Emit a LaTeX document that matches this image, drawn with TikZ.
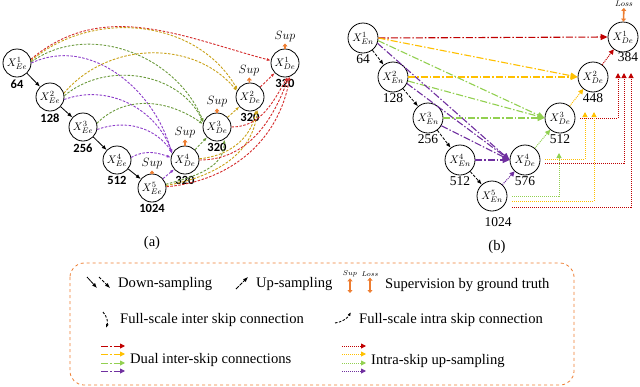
\documentclass[tikz,border=0pt]{standalone}
\usepackage{fontspec}
\setmainfont{Liberation Serif}
\newfontfamily\numfont{Carlito}
\usetikzlibrary{arrows.meta,positioning}

\definecolor{aRed}{HTML}{D42A2A}
\definecolor{aGold}{HTML}{C9A117}
\definecolor{aGreen}{HTML}{6B9A3C}
\definecolor{aPurple}{HTML}{8B3BC9}
\definecolor{bRed}{HTML}{C00000}
\definecolor{bOrange}{HTML}{FFC000}
\definecolor{bGreen}{HTML}{92D050}
\definecolor{bPurple}{HTML}{7030A0}
\definecolor{supOrange}{HTML}{ED7D31}

\begin{document}
\begin{tikzpicture}[x=1pt,y=1pt,
  every node/.style={font=\fontsize{14.6}{17}\selectfont},
  unit/.style={circle, draw, thick, minimum size=28pt, inner sep=0pt, font=\fontsize{11}{13}\selectfont},
  unitb/.style={unit, minimum size=30pt},
  numa/.style={font=\numfont\bfseries\fontsize{12.5}{14}\selectfont, inner sep=1pt},
  numb/.style={font=\fontsize{13.5}{15}\selectfont, inner sep=1pt},
  suptxt/.style={font=\fontsize{12}{14}\selectfont, inner sep=1pt},
  sup/.style={supOrange, line width=1.6pt, -{Triangle[length=3pt,width=5pt]}},
  askip/.style={dash pattern=on 2.5pt off 1.5pt, line width=0.9pt, -{Latex[length=4pt,width=3pt]}},
  downa/.style={thick, -{Latex[length=5pt,width=4pt]}},
  downb/.style={thick, dash pattern=on 3pt off 1.5pt, -{Latex[length=5pt,width=4pt]}},
  dual/.style={line width=1.1pt, dash pattern=on 7pt off 2pt on 1.5pt off 2pt, -{Triangle[length=7pt,width=6pt]}},
  intra/.style={line width=1pt, dash pattern=on 1pt off 1pt, -{Triangle[length=5pt,width=5pt]}},
  legtxt/.style={anchor=west, inner sep=0pt}]

\useasboundingbox (0,0) rectangle (640,-386);

% Panel (a): encoder and decoder nodes
\node[unit] (ae1) at (17,-63) {$X_{Ee}^{1}$};
\node[unit] (ae2) at (50,-97) {$X_{Ee}^{2}$};
\node[unit] (ae3) at (83,-127) {$X_{Ee}^{3}$};
\node[unit] (ae4) at (117,-160) {$X_{Ee}^{4}$};
\node[unit] (ae5) at (152,-188) {$X_{Ee}^{5}$};
\node[unit] (ad4) at (185,-160) {$X_{De}^{4}$};
\node[unit] (ad3) at (217,-127) {$X_{De}^{3}$};
\node[unit] (ad2) at (250,-97) {$X_{De}^{2}$};
\node[unit] (ad1) at (285,-63) {$X_{De}^{1}$};

\node[numa, below=1pt of ae1] (na1) {64};
\node[numa, below=1pt of ae2] (na2) {128};
\node[numa, below=1pt of ae3] (na3) {256};
\node[numa, below=1pt of ae4] (na4) {512};
\node[numa, below=1pt of ae5] (na5) {1024};
\node[numa, below=1pt of ad4] (na6) {320};
\node[numa, below=1pt of ad3] (na7) {320};
\node[numa, below=1pt of ad2] (na8) {320};
\node[numa, below=1pt of ad1] (na9) {320};

% deep supervision
\node[suptxt] (sa1) at (285,-37) {$Sup$};
\node[suptxt] (sa2) at (249,-71) {$Sup$};
\node[suptxt] (sa3) at (217,-102) {$Sup$};
\node[suptxt] (sa4) at (185,-133) {$Sup$};
\node[suptxt] (sa5) at (152,-164) {$Sup$};
\draw[sup] (ad1) -- (sa1);
\draw[sup] (ad2) -- (sa2);
\draw[sup] (ad3) -- (sa3);
\draw[sup] (ad4) -- (sa4);
\draw[sup] (ae5) -- (sa5);

% down-sampling
\draw[downa] (ae1) -- (ae2);
\draw[downa] (ae2) -- (ae3);
\draw[downa] (ae3) -- (ae4);
\draw[downa] (ae4) -- (ae5);

% up-sampling
\draw[askip, aPurple] (ae5) -- (ad4);
\draw[askip, aGreen] (ad4) -- (ad3);
\draw[askip, aGold] (ad3) -- (ad2);
\draw[askip, aRed] (ad2) -- (ad1);

% inter skips from encoder
\draw[askip, aRed] (ae1.15) to[out=40, in=165] (ad1.170);
\draw[askip, aGold] (ae1.10) to[out=40, in=120] (ad2.150);
\draw[askip, aGreen] (ae1.5) to[out=35, in=112] (ad3.160);
\draw[askip, aPurple] (ae1.0) to[out=25, in=105] (ad4.155);
\draw[askip, aGold] (ae2.15) to[out=50, in=130] (ad2.155);
\draw[askip, aGreen] (ae2.5) to[out=40, in=115] (ad3.162);
\draw[askip, aPurple] (ae2.-10) to[out=20, in=110] (ad4.152);
\draw[askip, aGreen] (ae3.15) to[out=45, in=145] (ad3.168);
\draw[askip, aPurple] (ae3.-10) to[out=20, in=125] (ad4.150);
\draw[askip, aPurple] (ae4.10) to[out=30, in=160] (ad4.170);

% intra skips from lower nodes
\draw[askip, aRed] (ae5.5) to[out=5, in=-100] (ad1.-70);
\draw[askip, aGold] (ae5.10) to[out=10, in=-95] (ad2.-60);
\draw[askip, aGreen] (ae5.15) to[out=15, in=-90] (ad3.-60);
\draw[askip, aRed] (ad4.0) to[out=0, in=-110] (ad1.-75);
\draw[askip, aGold] (ad4.5) to[out=5, in=-100] (ad2.-65);
\draw[askip, aRed] (ad3.0) to[out=0, in=-120] (ad1.-80);

\node (capa) at (152,-243) {(a)};

% Panel (b): encoder and decoder nodes
\node[unitb] (be1) at (363,-38) {$X_{En}^{1}$};
\node[unitb] (be2) at (393,-77) {$X_{En}^{2}$};
\node[unitb] (be3) at (428,-118) {$X_{En}^{3}$};
\node[unitb] (be4) at (460,-160) {$X_{En}^{4}$};
\node[unitb] (be5) at (492,-196) {$X_{En}^{5}$};
\node[unitb] (bd4) at (525,-160) {$X_{De}^{4}$};
\node[unitb] (bd3) at (560,-118) {$X_{De}^{3}$};
\node[unitb] (bd2) at (593,-77) {$X_{De}^{2}$};
\node[unitb] (bd1) at (623,-37) {$X_{De}^{1}$};

\node[numb, below=0pt of be1] (nb1) {64};
\node[numb, below=0pt of be2] (nb2) {128};
\node[numb, below=0pt of be3] (nb3) {256};
\node[numb, below=0pt of be4] (nb4) {512};
\node[numb, below=5pt of be5, xshift=6pt] (nb5) {1024};
\node[numb, below=0pt of bd4] (nb6) {576};
\node[numb, below=0pt of bd3] (nb7) {512};
\node[numb, below=0pt of bd2] (nb8) {448};
\node[numb, below=-1pt of bd1, xshift=5pt] (nb9) {384};

\node[suptxt, font=\fontsize{8}{9}\selectfont] (loss) at (624,-4) {$Loss$};
\draw[sup, {Triangle[length=3pt,width=5pt]}-{Triangle[length=3pt,width=5pt]}] (bd1) -- (loss);

% down-sampling
\draw[downb] (be1) -- (be2);
\draw[downb] (be2) -- (be3);
\draw[downb] (be3) -- (be4);
\draw[downb] (be4) -- (be5);

% dual inter-skip connections
\draw[dual, bRed] (be1.east) -- (bd1.west);
\draw[dual, bOrange] (be1.east) -- (bd2.west);
\draw[dual, bOrange] (be2.east) -- (bd2.west);
\draw[dual, bGreen] (be1.-10) -- (bd3.west);
\draw[dual, bGreen] (be2.-15) -- (bd3.west);
\draw[dual, bGreen] (be3.east) -- (bd3.west);
\draw[dual, bPurple] (be1.-20) -- (bd4.west);
\draw[dual, bPurple] (be2.-25) -- (bd4.west);
\draw[dual, bPurple] (be3.-30) -- (bd4.west);
\draw[dual, bPurple] (be4.east) -- (bd4.west);

% up-sampling
\draw[intra, bPurple] (be5) -- (bd4);
\draw[intra, bGreen] (bd4) -- (bd3);
\draw[intra, bOrange] (bd3) -- (bd2);
\draw[intra, bRed] (bd2) -- (bd1);

% intra-skip up-sampling
\coordinate (r1) at (618,-73);
\coordinate (r2) at (624,-73);
\coordinate (r3) at (631,-73);
\coordinate (o1) at (585,-112);
\coordinate (o2) at (594,-112);
\coordinate (g1) at (559,-153);
\draw[intra, bRed] ([xshift=5pt]bd3.east) -| (r1);
\draw[intra, bRed] ([xshift=5pt,yshift=-3pt]bd4.east) -| (r2);
\draw[intra, bOrange] ([xshift=5pt,yshift=1pt]bd4.east) -| (o1);
\draw[intra, bGreen] ([xshift=5pt]be5.east) -| (g1);
\draw[intra, bOrange] ([xshift=5pt,yshift=-5pt]be5.east) -| (o2);
\draw[intra, bRed] ([xshift=5pt,yshift=-11pt]be5.east) -| (r3);

\node (capb) at (497,-247) {(b)};

% Legend
\draw[supOrange, dashed, thick, rounded corners=14pt] (70,-263) rectangle (574,-385);

\coordinate (k1) at (87,-277);
\coordinate (k2) at (97,-288);
\coordinate (k3) at (99,-277);
\coordinate (k4) at (110,-288);
\draw[downa] (k1) -- (k2);
\draw[downb] (k3) -- (k4);
\node[legtxt] (ldown) at (118,-284) {Down-sampling};

\coordinate (k5) at (236,-289);
\coordinate (k6) at (248,-277);
\draw[downa, dash pattern=on 4pt off 1pt] (k5) -- (k6);
\node[legtxt] (lup) at (256,-284) {Up-sampling};

\node[suptxt, font=\fontsize{7.5}{8}\selectfont] (ksup) at (350,-274) {$Sup$};
\node[suptxt, font=\fontsize{7.5}{8}\selectfont] (kloss) at (370,-274) {$Loss$};
\coordinate (k7) at (350,-293);
\coordinate (k8) at (370,-293);
\draw[sup, {Triangle[length=3pt,width=5pt]}-{Triangle[length=3pt,width=5pt]}] (k7) -- (ksup);
\draw[sup, {Triangle[length=3pt,width=5pt]}-{Triangle[length=3pt,width=5pt]}] (k8) -- (kloss);
\node[legtxt] (lsup) at (385,-285) {Supervision by ground truth};

\coordinate (k9) at (103,-312);
\coordinate (k10) at (106,-328);
\draw[askip, black] (k9) to[bend left=30] (k10);
\node[legtxt] (linter) at (120,-320) {Full-scale inter skip connection};

\coordinate (k11) at (335,-323);
\coordinate (k12) at (351,-312);
\draw[askip, black] (k11) to[bend right=25] (k12);
\node[legtxt] (lintra) at (359,-320) {Full-scale intra skip connection};

\foreach \c/\y in {bRed/346, bOrange/354, bGreen/363, bPurple/371} {
  \draw[dual, \c, line width=0.9pt, -{Triangle[length=5pt,width=5pt]}] (101,-\y) -- (125,-\y);
  \draw[intra, \c, line width=0.9pt] (342,-\y) -- (366,-\y);
}
\node[legtxt] (ldual) at (130,-360) {Dual inter-skip connections};
\node[legtxt] (lintraup) at (371,-361) {Intra-skip up-sampling};

\end{tikzpicture}
\end{document}
